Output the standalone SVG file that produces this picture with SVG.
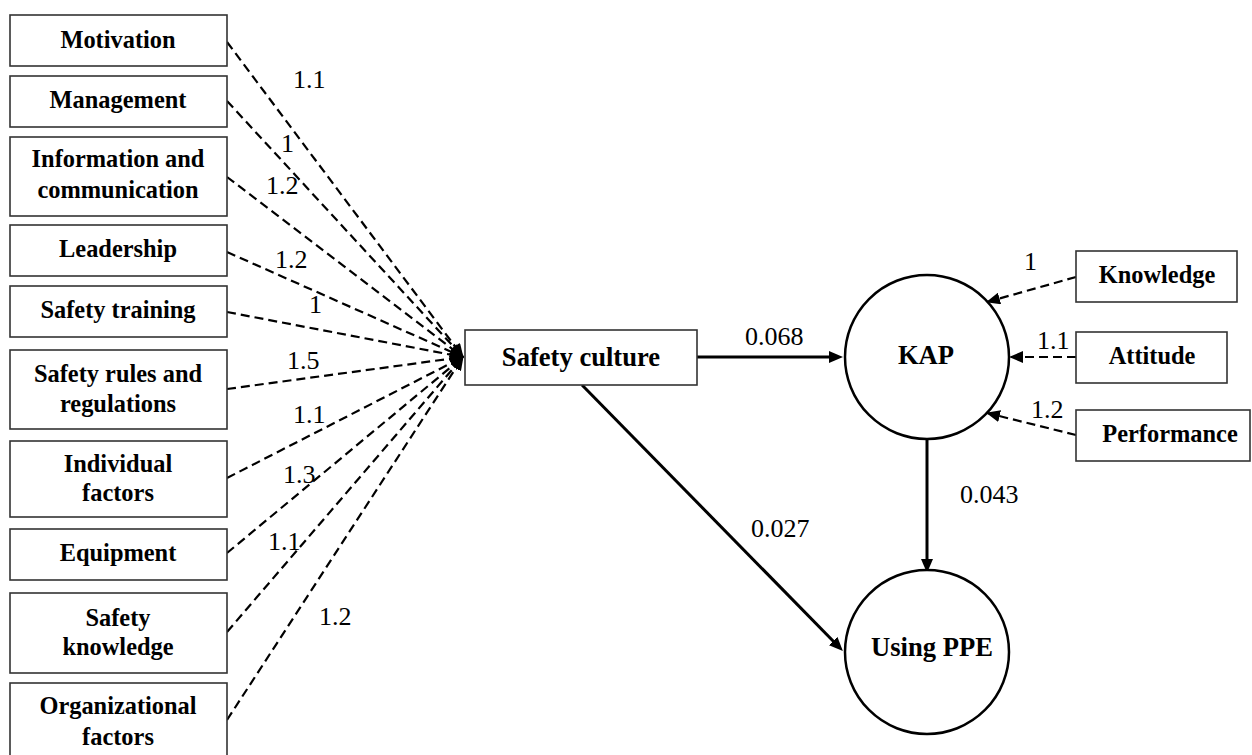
<svg xmlns="http://www.w3.org/2000/svg" width="1252" height="755" viewBox="0 0 1252 755">
<style>
.box{fill:#fff;stroke:#333;stroke-width:1.6}
.circ{fill:#fff;stroke:#000;stroke-width:2.5}
.t{font-weight:bold;font-size:24.4px;text-anchor:middle;fill:#000}
.big{font-size:26.6px}
.n{font-size:26px;fill:#000}
.d{stroke:#000;stroke-width:2.2;stroke-dasharray:9 5;fill:none}
.s{stroke:#000;stroke-width:3;fill:none}
</style>
<defs>
<marker id="ah" markerUnits="userSpaceOnUse" markerWidth="14" markerHeight="12" refX="7" refY="6" orient="auto">
<path d="M0,0 L14,6 L0,12 z" fill="#000"/>
</marker>
<marker id="ad" markerUnits="userSpaceOnUse" markerWidth="14" markerHeight="12" refX="13" refY="6" orient="auto">
<path d="M0,0 L14,6 L0,12 z" fill="#000"/>
</marker>
</defs>
<rect width="1252" height="755" fill="#fff"/>
<g id="connectors" font-family="Liberation Serif, Times New Roman, serif">
<line class="d" x1="227" y1="42" x2="463" y2="357" marker-end="url(#ad)"/>
<line class="d" x1="227" y1="101" x2="463" y2="357" marker-end="url(#ad)"/>
<line class="d" x1="227" y1="177" x2="463" y2="357" marker-end="url(#ad)"/>
<line class="d" x1="227" y1="252" x2="463" y2="357" marker-end="url(#ad)"/>
<line class="d" x1="227" y1="312" x2="463" y2="357" marker-end="url(#ad)"/>
<line class="d" x1="227" y1="389" x2="463" y2="357" marker-end="url(#ad)"/>
<line class="d" x1="227" y1="478" x2="463" y2="357" marker-end="url(#ad)"/>
<line class="d" x1="227" y1="553" x2="463" y2="357" marker-end="url(#ad)"/>
<line class="d" x1="227" y1="632" x2="463" y2="357" marker-end="url(#ad)"/>
<line class="d" x1="227" y1="720" x2="463" y2="357" marker-end="url(#ad)"/>
<line class="s" x1="697" y1="357" x2="836" y2="357" marker-end="url(#ah)"/>
<line class="s" x1="927" y1="437" x2="927" y2="566" marker-end="url(#ah)"/>
<line class="s" x1="582" y1="385" x2="838" y2="646" marker-end="url(#ah)"/>
<line class="d" x1="1076" y1="277" x2="987" y2="302" marker-end="url(#ad)"/>
<line class="d" x1="1076" y1="357" x2="1010" y2="357" marker-end="url(#ad)"/>
<line class="d" x1="1076" y1="435" x2="987" y2="413" marker-end="url(#ad)"/>
<text class="n" x="293" y="88">1.1</text>
<text class="n" x="281" y="152">1</text>
<text class="n" x="266" y="194">1.2</text>
<text class="n" x="275" y="268">1.2</text>
<text class="n" x="309" y="313">1</text>
<text class="n" x="287" y="369">1.5</text>
<text class="n" x="293" y="423">1.1</text>
<text class="n" x="283" y="483">1.3</text>
<text class="n" x="268" y="550">1.1</text>
<text class="n" x="319" y="625">1.2</text>
<text class="n" x="745" y="345">0.068</text>
<text class="n" x="960" y="503">0.043</text>
<text class="n" x="751" y="537">0.027</text>
<text class="n" x="1024" y="270">1</text>
<text class="n" x="1037" y="349">1.1</text>
<text class="n" x="1031" y="418">1.2</text>
</g>
<g font-family="Liberation Serif, Times New Roman, serif">
<g id="motivation"><rect class="box" x="10" y="15" width="217" height="51"/><text class="t" x="118" y="48">Motivation</text></g>
<g id="management"><rect class="box" x="10" y="76" width="217" height="51"/><text class="t" x="118" y="108">Management</text></g>
<g id="information"><rect class="box" x="10" y="137" width="217" height="79"/><text class="t" x="118" y="167">Information and</text><text class="t" x="118" y="198">communication</text></g>
<g id="leadership"><rect class="box" x="10" y="225" width="217" height="51"/><text class="t" x="118" y="257">Leadership</text></g>
<g id="safety-training"><rect class="box" x="10" y="286" width="217" height="51"/><text class="t" x="118" y="318">Safety training</text></g>
<g id="safety-rules"><rect class="box" x="10" y="350" width="217" height="79"/><text class="t" x="118" y="382">Safety rules and</text><text class="t" x="118" y="412">regulations</text></g>
<g id="individual"><rect class="box" x="10" y="441" width="217" height="76"/><text class="t" x="118" y="472">Individual</text><text class="t" x="118" y="501">factors</text></g>
<g id="equipment"><rect class="box" x="10" y="529" width="217" height="51"/><text class="t" x="118" y="561">Equipment</text></g>
<g id="safety-knowledge"><rect class="box" x="10" y="593" width="217" height="80"/><text class="t" x="118" y="626">Safety</text><text class="t" x="118" y="655">knowledge</text></g>
<g id="organizational"><rect class="box" x="10" y="683" width="217" height="80"/><text class="t" x="118" y="714">Organizational</text><text class="t" x="118" y="745">factors</text></g>
<g id="safety-culture"><rect class="box" x="465" y="330" width="232" height="55"/><text class="t big" x="581" y="366">Safety culture</text></g>
<g id="kap"><circle class="circ" cx="927" cy="357" r="82"/><text class="t big" x="926" y="364">KAP</text></g>
<g id="using-ppe"><circle class="circ" cx="927" cy="652" r="82"/><text class="t big" x="932" y="656">Using PPE</text></g>
<g id="knowledge"><rect class="box" x="1076" y="251" width="161" height="51"/><text class="t" x="1157" y="283">Knowledge</text></g>
<g id="attitude"><rect class="box" x="1076" y="332" width="151" height="51"/><text class="t" x="1152" y="364">Attitude</text></g>
<g id="performance"><rect class="box" x="1076" y="410" width="174" height="51"/><text class="t" x="1170" y="442">Performance</text></g>
</g>
</svg>
